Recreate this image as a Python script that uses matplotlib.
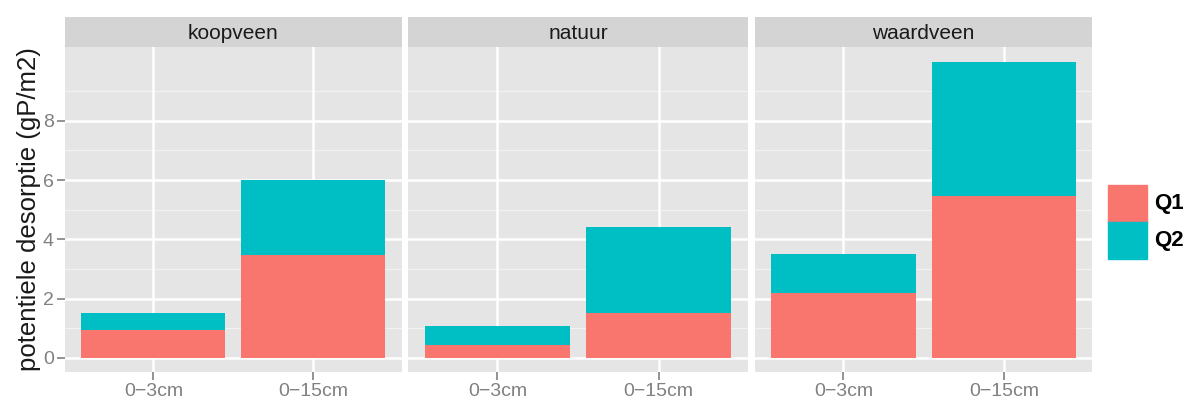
import matplotlib.pyplot as plt
import numpy as np
from matplotlib.patches import Rectangle

# data
sites = ["koopveen", "natuur", "waardveen"]
depths = ["0\u22123cm", "0\u221215cm"]
q1 = {"koopveen": [0.93, 3.47], "natuur": [0.43, 1.5], "waardveen": [2.18, 5.46]}
q2 = {"koopveen": [0.57, 2.53], "natuur": [0.64, 2.9], "waardveen": [1.31, 4.52]}
yticks = [0, 2, 4, 6, 8]
series = ["Q1", "Q2"]
colors = ["#F8766D", "#00BFC4"]

plt.rcParams['font.family'] = ['Liberation Sans', 'DejaVu Sans']

W, H = 1187, 403
fig = plt.figure(figsize=(W / 100, H / 100), dpi=100)

# panel extents in pixels (left, right)
panels = [(65, 401.7), (408.3, 747.7), (755, 1092.3)]
ptop, pbot = 46.7, 371.7
stop = 16.7

def fx(p):
  return p / W

def fy(p):
  return 1 - p / H

x = np.arange(1, len(depths) + 1)
for i, site in enumerate(sites):
  l, r = panels[i]
  ax = fig.add_axes([fx(l), fy(pbot), fx(r - l), fy(ptop) - fy(pbot)])
  ax.set_facecolor("#E5E5E5")
  ax.set_xlim(0.448, 2.552)
  ax.set_ylim(-0.47, 10.5)
  # minor grid at odd values
  for m in [1, 3, 5, 7, 9]:
    ax.axhline(m, color="#F2F2F2", lw=0.9, zorder=0)
  ax.set_yticks(yticks)
  ax.set_xticks(x)
  ax.grid(True, color="white", lw=1.8, zorder=0)
  ax.set_axisbelow(True)
  ax.bar(x, q1[site], width=0.9, color=colors[0], zorder=2, label=series[0])
  ax.bar(x, q2[site], width=0.9, bottom=q1[site], color=colors[1], zorder=2, label=series[1])
  for s in ax.spines.values():
    s.set_visible(False)
  ax.set_xticklabels(depths)
  ax.tick_params(axis="both", colors="#808080", labelsize=14, length=6, width=1.2, pad=2)
  if i == 0:
    ax.set_ylabel("potentiele desorptie (gP/m2)", fontsize=18.5, color="#1a1a1a", labelpad=1)
  else:
    ax.tick_params(axis="y", left=False, labelleft=False)
  # strip
  sax = fig.add_axes([fx(l), fy(ptop), fx(r - l), fy(stop) - fy(ptop)])
  sax.set_facecolor("#D4D4D4")
  sax.set_xticks([])
  sax.set_yticks([])
  for s in sax.spines.values():
    s.set_visible(False)
  sax.text(0.5, 0.45, site, ha="center", va="center", fontsize=15, color="#1a1a1a", transform=sax.transAxes)

# legend
key_top = [185, 221.7]
for k in range(2):
  y0 = key_top[k]
  fig.patches.append(Rectangle((fx(1108), fy(y0 + 37.5)), fx(39), fy(y0) - fy(y0 + 37.5),
                               transform=fig.transFigure, color=colors[k]))
  fig.text(fx(1154), fy(y0 + 19), series[k], fontsize=16, fontweight="bold", va="center", ha="left")

fig.savefig("out.png", dpi=100)
